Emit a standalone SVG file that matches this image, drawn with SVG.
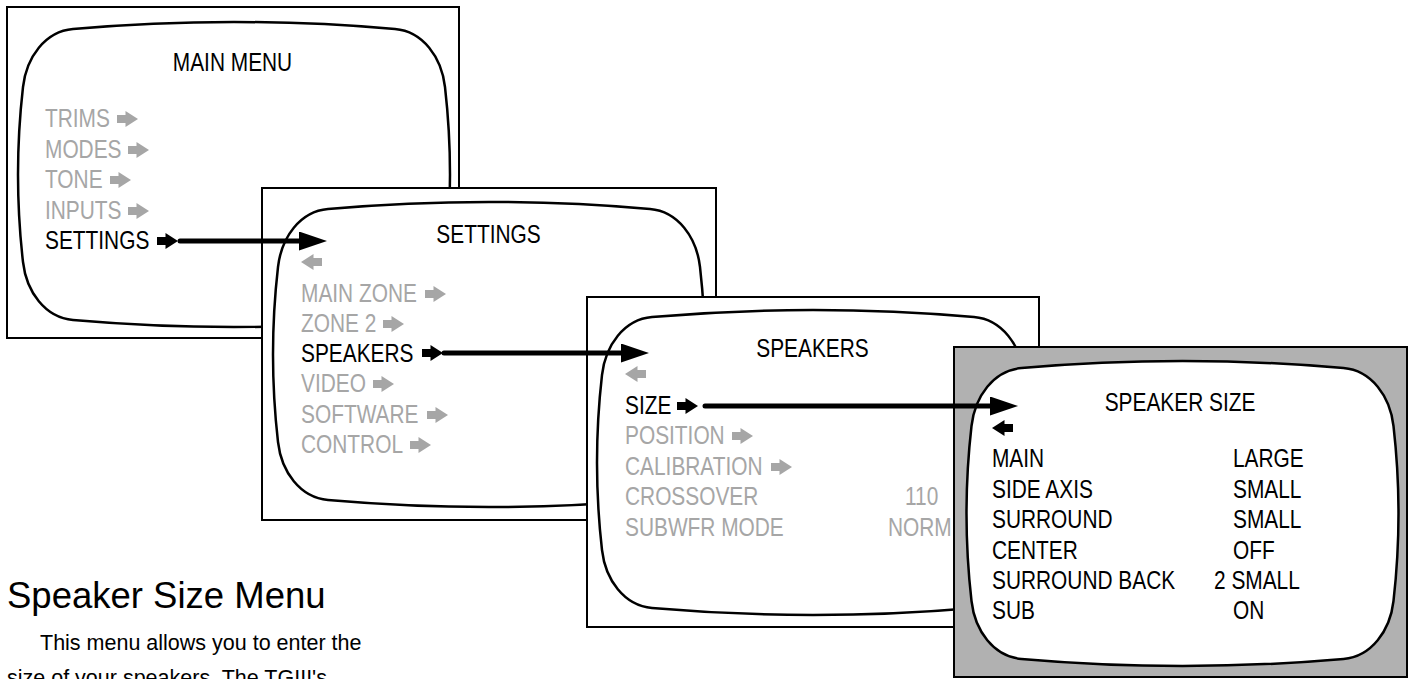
<svg xmlns="http://www.w3.org/2000/svg" width="1410" height="679" viewBox="0 0 1410 679">
<style>
.box{fill:#fff;stroke:#000;stroke-width:2}
.gbox{fill:#b1b1b1;stroke:#000;stroke-width:2}
.scr{fill:#fff;stroke:#000;stroke-width:2.5}
.m{font-family:"Liberation Sans",Arial,sans-serif;font-size:25px;transform-box:fill-box;transform-origin:left center;transform:scaleX(0.835)}
.ttl{text-anchor:middle;transform-origin:center}
.g{fill:#a6a6a6}
.k{fill:#000}
.body{font-family:"Liberation Sans",Arial,sans-serif;fill:#000}
.conn{stroke:#000;stroke-width:5;stroke-linecap:round;fill:none;marker-end:url(#head)}
</style>
<defs>
<path id="scr" d="M55,7 Q216,-7 377,7 C404.9,9.4 423.6,35.2 427,65 Q437,152.5 427,240 C423.6,269.8 404.9,295.6 377,298 Q216,312 55,298 C27.1,295.6 8.4,269.8 5,240 Q-5,152.5 5,65 C8.4,35.2 27.1,9.4 55,7 Z"/>
<path id="ar" d="M0,-4 H8.5 V-8 L21,0 L8.5,8 V4 H0 Z"/>
<path id="al" d="M21,-4 H12.5 V-8 L0,0 L12.5,8 V4 H21 Z"/>
<marker id="head" markerUnits="userSpaceOnUse" markerWidth="28" markerHeight="19" viewBox="0 0 28 19" refX="0" refY="9.5" orient="auto">
<path d="M0,0 L28,9.5 L0,19 Z" fill="#000"/>
</marker>
</defs>

<g id="main-menu">
<rect class="box" x="7" y="7" width="452" height="331"/>
<use href="#scr" class="scr" transform="translate(18,22)"/>
<text class="m ttl k" x="232.5" y="71">MAIN MENU</text>
<text class="m g" x="45" y="127">TRIMS</text>
<use href="#ar" class="g" x="117" y="119"/>
<text class="m g" x="45" y="158">MODES</text>
<use href="#ar" class="g" x="128" y="150"/>
<text class="m g" x="45" y="188">TONE</text>
<use href="#ar" class="g" x="110" y="180"/>
<text class="m g" x="45" y="219">INPUTS</text>
<use href="#ar" class="g" x="128" y="211"/>
<text class="m k" x="45" y="249">SETTINGS</text>
<use href="#ar" class="k" x="157" y="241"/>
</g>

<g id="settings">
<rect class="box" x="262" y="188" width="454" height="332"/>
<use href="#scr" class="scr" transform="translate(273,202)"/>
<text class="m ttl k" x="488.5" y="243">SETTINGS</text>
<use href="#al" class="g" x="301" y="262"/>
<text class="m g" x="301" y="302">MAIN ZONE</text>
<use href="#ar" class="g" x="425" y="294"/>
<text class="m g" x="301" y="332">ZONE 2</text>
<use href="#ar" class="g" x="383" y="324"/>
<text class="m k" x="301" y="362">SPEAKERS</text>
<use href="#ar" class="k" x="422" y="353"/>
<text class="m g" x="301" y="392">VIDEO</text>
<use href="#ar" class="g" x="373" y="384"/>
<text class="m g" x="301" y="423">SOFTWARE</text>
<use href="#ar" class="g" x="427" y="415"/>
<text class="m g" x="301" y="453">CONTROL</text>
<use href="#ar" class="g" x="410" y="445"/>
</g>

<g id="speakers">
<rect class="box" x="587" y="297" width="452" height="330"/>
<use href="#scr" class="scr" transform="translate(597,310)"/>
<text class="m ttl k" x="812.5" y="357">SPEAKERS</text>
<use href="#al" class="g" x="625" y="374"/>
<text class="m k" x="625" y="414">SIZE</text>
<use href="#ar" class="k" x="677" y="406"/>
<text class="m g" x="625" y="444">POSITION</text>
<use href="#ar" class="g" x="732" y="436"/>
<text class="m g" x="625" y="475">CALIBRATION</text>
<use href="#ar" class="g" x="771" y="467"/>
<text class="m g" x="625" y="505">CROSSOVER</text>
<text class="m g" x="905" y="505">110</text>
<text class="m g" x="625" y="536">SUBWFR MODE</text>
<text class="m g" x="888" y="536">NORM</text>
</g>

<g id="speaker-size">
<rect class="gbox" x="954" y="347" width="453" height="330"/>
<use href="#scr" class="scr" transform="translate(966.5,361)"/>
<text class="m ttl k" x="1180" y="411">SPEAKER SIZE</text>
<use href="#al" class="k" x="992" y="428"/>
<text class="m k" x="992" y="467">MAIN</text>
<text class="m k" x="1233" y="467">LARGE</text>
<text class="m k" x="992" y="498">SIDE AXIS</text>
<text class="m k" x="1233" y="498">SMALL</text>
<text class="m k" x="992" y="528">SURROUND</text>
<text class="m k" x="1233" y="528">SMALL</text>
<text class="m k" x="992" y="559">CENTER</text>
<text class="m k" x="1233" y="559">OFF</text>
<text class="m k" x="992" y="589">SURROUND BACK</text>
<text class="m k" x="1214" y="589">2 SMALL</text>
<text class="m k" x="992" y="619">SUB</text>
<text class="m k" x="1233" y="619">ON</text>
</g>

<g id="connectors">
<line class="conn" x1="180" y1="241" x2="299" y2="241"/>
<line class="conn" x1="444" y1="353" x2="621" y2="353"/>
<line class="conn" x1="705" y1="406" x2="990" y2="406"/>
</g>

<g id="caption">
<text class="body" x="7" y="608" font-size="36.5">Speaker Size Menu</text>
<text class="body" x="40" y="650" font-size="21.5">This menu allows you to enter the</text>
<text class="body" x="7" y="685" font-size="21.5">size of your speakers. The TGIII's</text>
</g>
</svg>
